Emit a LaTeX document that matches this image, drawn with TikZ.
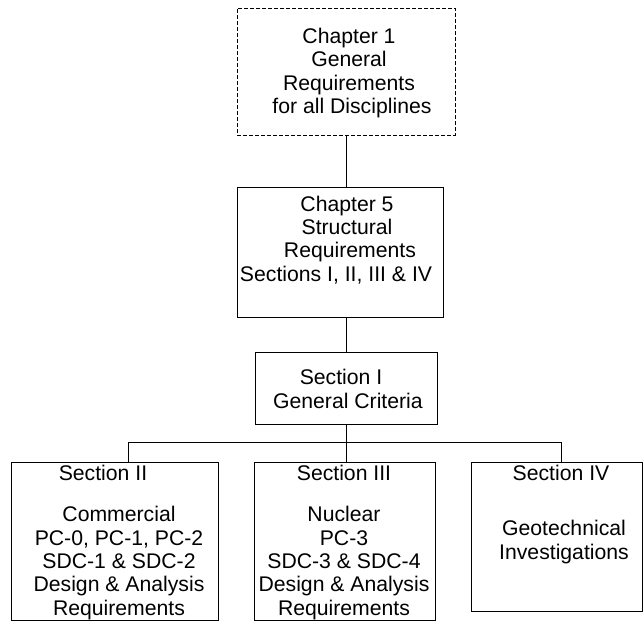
\documentclass[tikz,border=0pt]{standalone}
\usepackage{fontspec}
\setmainfont{Liberation Sans}
\begin{document}
\begin{tikzpicture}[x=1pt,y=-1pt,
  box/.style={draw,line width=1pt,rectangle,inner sep=0pt},
  dbox/.style={box,dash pattern=on 4pt off 2pt},
  txt/.style={align=center,inner sep=0pt,font=\fontsize{21.2}{23.3}\selectfont},
  conn/.style={line width=1pt}]
\useasboundingbox (0,0) rectangle (644,624);
% boxes
\node[dbox,minimum width=218pt,minimum height=127pt] (top) at (346,71.5) {};
\node[box,minimum width=206pt,minimum height=130pt] (ch5) at (340,252) {};
\node[box,minimum width=182pt,minimum height=72pt] (sec1) at (346,388) {};
\node[box,minimum width=207pt,minimum height=158pt] (s2) at (114.5,541) {};
\node[box,minimum width=181pt,minimum height=158pt] (s3) at (344.5,541) {};
\node[box,minimum width=171pt,minimum height=149pt] (s4) at (556.5,536.5) {};
% texts
\node[txt] (ttop) at (349,73) {Chapter 1\\General\\Requirements\\\ for all Disciplines};
\node[txt] (tch5) at (347,240) {Chapter 5\\Structural\\\ Requirements\\\hspace*{-22pt}Sections I, II, III \& IV};
\node[txt] (tsec1) at (345,389) {\hspace*{-8pt}Section I\\\ General Criteria};
\node[txt] (h2) at (103,473) {Section II};
\node[txt] (t2) at (119,563) {Commercial\\PC-0, PC-1, PC-2\\SDC-1 \& SDC-2\\Design \& Analysis\\Requirements};
\node[txt] (h3) at (344,473) {Section III};
\node[txt] (t3) at (344,563) {Nuclear\\PC-3\\SDC-3 \& SDC-4\\Design \& Analysis\\Requirements};
\node[txt] (h4) at (561,473) {Section IV};
\node[txt] (t4) at (564,542) {Geotechnical\\Investigations};
% connectors
\coordinate (j) at (346,442);
\coordinate (jl) at (128,442);
\coordinate (jr) at (561,442);
\draw[conn] (top.south -| j) -- (ch5.north -| j);
\draw[conn] (ch5.south -| j) -- (sec1.north -| j);
\draw[conn] (sec1.south -| j) -- (j);
\draw[conn] (jl) -- (jr);
\draw[conn] (jl) -- (jl |- s2.north);
\draw[conn] (j) -- (j |- s3.north);
\draw[conn] (jr) -- (jr |- s4.north);
\end{tikzpicture}
\end{document}
